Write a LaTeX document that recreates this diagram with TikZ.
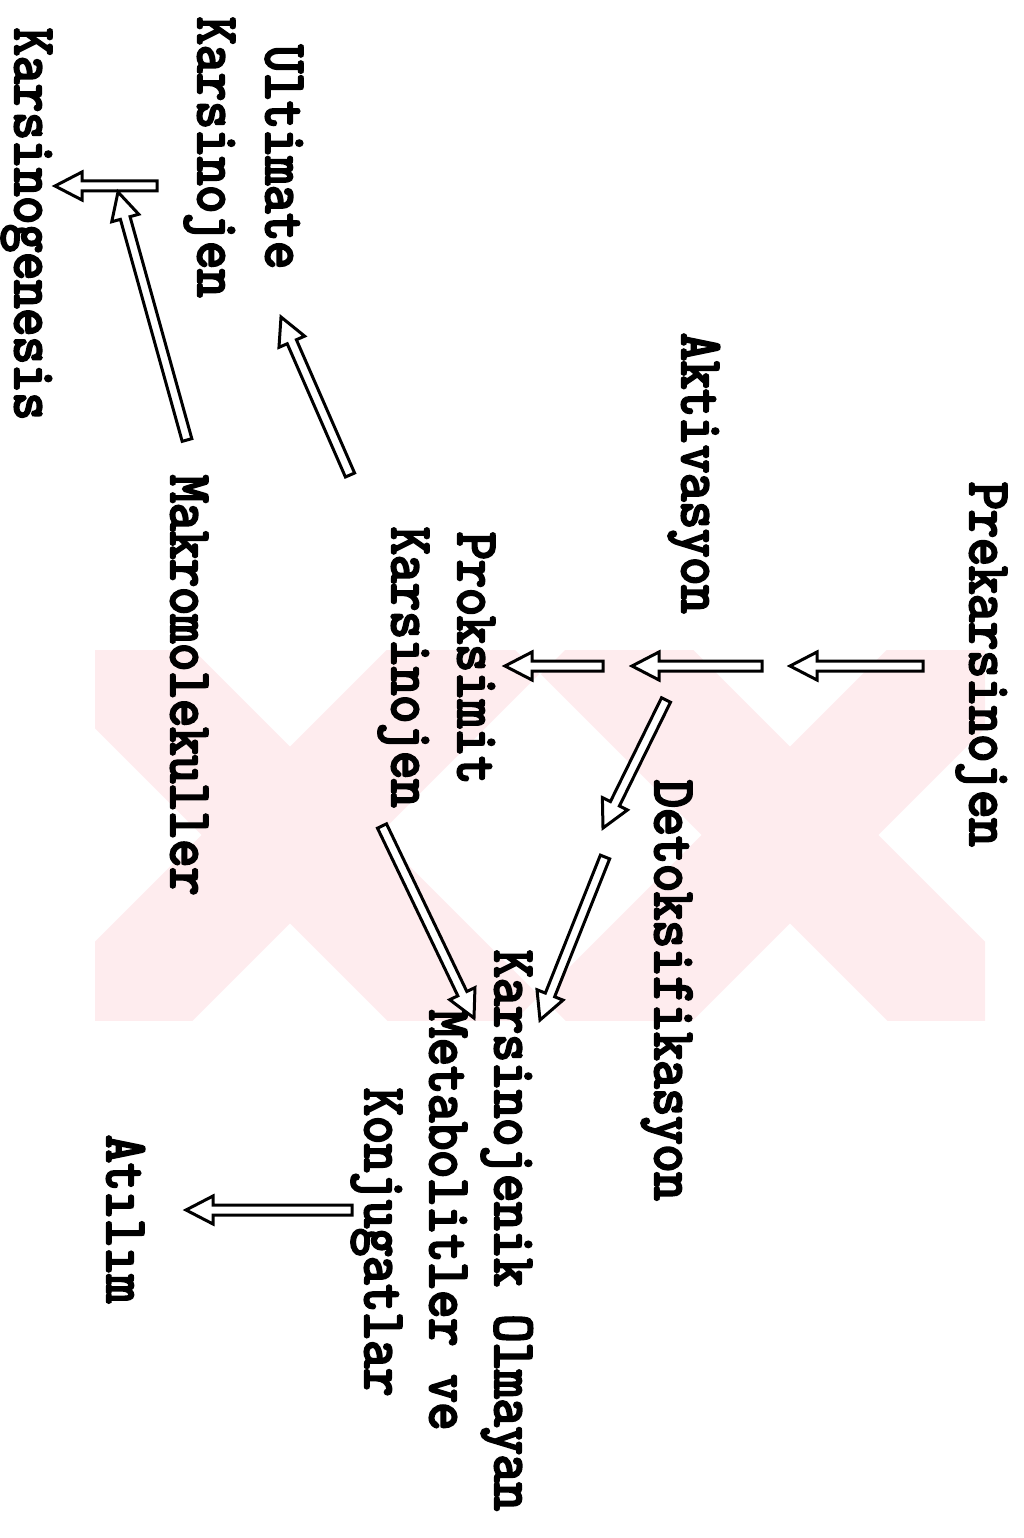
\documentclass[tikz,border=0pt]{standalone}
\usepackage{fontspec}
\usetikzlibrary{calc}
\newfontfamily\labelfont{lmmono10-regular.otf}[FakeBold=4,FakeStretch=0.89]
\definecolor{wmpink}{RGB}{254,236,238}
\tikzset{
  lbl/.style={font=\labelfont\fontsize{60}{66}\selectfont, rotate=-90,
    anchor=base west, inner sep=0pt, outer sep=0pt},
  hollow/.style={draw=black, line width=3pt, line join=miter, miter limit=6, fill=white},
  wmband/.style={draw=wmpink, line width=125pt, line cap=butt}
}
% open (outlined) block arrow from coordinate #1 to coordinate #2
\newcommand\hollowarrow[2]{%
  \coordinate (hb) at ($(#2)!27pt!(#1)$);
  \draw[hollow]
    ($(#1)!5pt!90:(#2)$) -- ($(hb)!5pt!-90:(#1)$) -- ($(hb)!14pt!-90:(#1)$) --
    (#2) --
    ($(hb)!14pt!90:(#1)$) -- ($(hb)!5pt!90:(#1)$) -- ($(#1)!5pt!-90:(#2)$) -- cycle;
}
\begin{document}
\begin{tikzpicture}[x=1pt,y=-1pt]
\useasboundingbox (0,0) rectangle (1024,1538);

% faint background emblem
\begin{scope}
  \clip (95,650) rectangle (985,1020);
  \foreach \cx in {290,790} {
    \draw[wmband] (\cx-205,630) -- (\cx+205,1040);
    \draw[wmband] (\cx+205,630) -- (\cx-205,1040);
  }
\end{scope}

% labels
\node[lbl] (pre)   at (970,482)  {Prekarsinojen};
\node[lbl] (akt)   at (682,333)  {Aktivasyon};
\node[lbl] (prox1) at (458,532)  {Proksimit};
\node[lbl] (prox2) at (392,527)  {Karsinojen};
\node[lbl] (ult1)  at (266,45)   {Ultimate};
\node[lbl] (ult2)  at (198,17)   {Karsinojen};
\node[lbl] (gen)   at (15,28)    {Karsinogenesis};
\node[lbl] (makro) at (171,475)  {Makromolekuller};
\node[lbl] (detok) at (655,780)  {Detoksifikasyon};
\node[lbl] (non1)  at (495,950)  {Karsinojenik Olmayan};
\node[lbl] (non2)  at (430,1010) {Metabolitler ve};
\node[lbl] (non3)  at (365,1088) {Konjugatlar};
\node[lbl] (atl)   at (107,1135) {Atılım};

% arrow end points
\coordinate (a1s) at (923,666);  \coordinate (a1e) at (790,666);
\coordinate (a2s) at (762,666);  \coordinate (a2e) at (632,666);
\coordinate (a3s) at (603,666);  \coordinate (a3e) at (505,666);
\coordinate (a4s) at (666,700);  \coordinate (a4e) at (603,828);
\coordinate (a5s) at (605,857);  \coordinate (a5e) at (540,1020);
\coordinate (a6s) at (382,826);  \coordinate (a6e) at (474,1018);
\coordinate (a7s) at (352,1210); \coordinate (a7e) at (186,1210);
\coordinate (a8s) at (350,475);  \coordinate (a8e) at (281,317);
\coordinate (a9s) at (187,440);  \coordinate (a9e) at (118,192);
\coordinate (a10s) at (157,186); \coordinate (a10e) at (55,186);

\hollowarrow{a1s}{a1e}
\hollowarrow{a2s}{a2e}
\hollowarrow{a3s}{a3e}
\hollowarrow{a4s}{a4e}
\hollowarrow{a5s}{a5e}
\hollowarrow{a6s}{a6e}
\hollowarrow{a7s}{a7e}
\hollowarrow{a8s}{a8e}
\hollowarrow{a10s}{a10e}
\hollowarrow{a9s}{a9e}
\end{tikzpicture}
\end{document}
